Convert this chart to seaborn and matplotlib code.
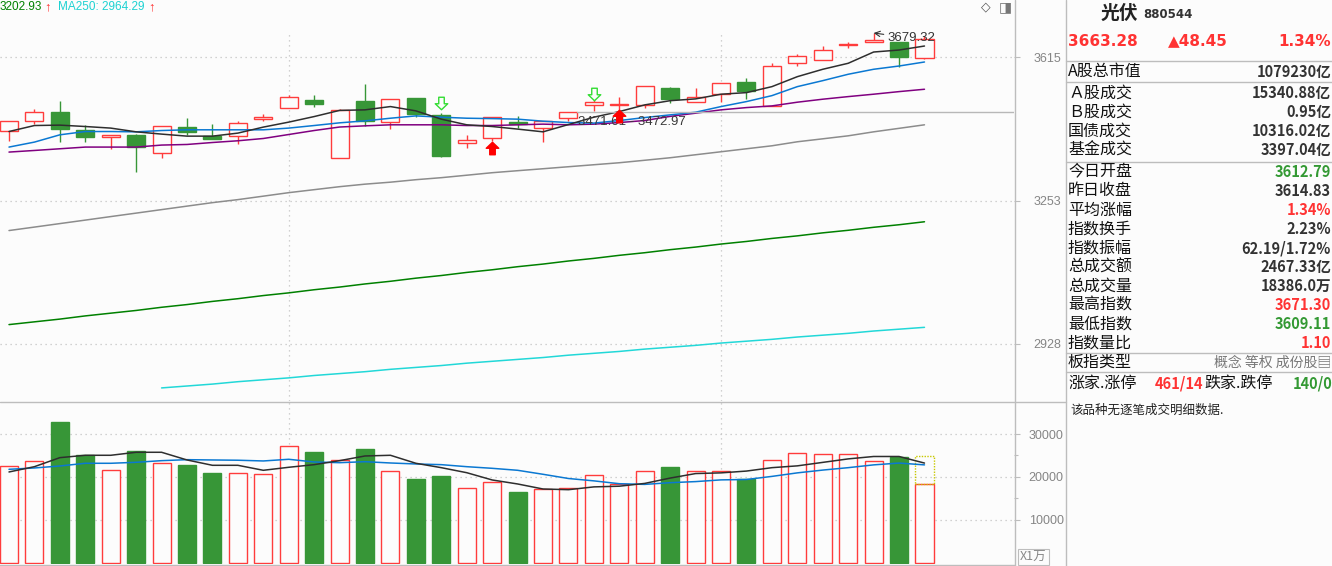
import numpy as np
import matplotlib
matplotlib.use('Agg')
import matplotlib.pyplot as plt
import seaborn as sns
from matplotlib import font_manager
from matplotlib.path import Path
from matplotlib.lines import Line2D
from matplotlib.ticker import FixedLocator, NullLocator

# ---- data ----
opens = [3423.5, 3448.6, 3472.2, 3426.8, 3409.9, 3413.4, 3368.9, 3434.3, 3411.7, 3410.9,
         3453.7, 3481.6, 3502.9, 3356.5, 3500.4, 3447.6, 3507.3, 3465.3, 3393.5, 3406.1,
         3446.2, 3431.1, 3455.6, 3488.6, 3489.4, 3489.4, 3533.0, 3497.0, 3517.6, 3549.4,
         3486.8, 3598.4, 3606.3, 3647.7, 3654.1, 3655.7, 3612.79]
highs = [3449.4, 3480.1, 3500.4, 3439.4, 3414.2, 3416.0, 3436.1, 3456.9, 3441.9, 3449.4,
         3467.1, 3515.0, 3515.8, 3480.1, 3544.2, 3504.7, 3508.5, 3468.9, 3414.2, 3458.7,
         3462.0, 3448.6, 3471.4, 3509.8, 3509.8, 3538.2, 3537.2, 3533.8, 3546.0, 3559.8,
         3599.1, 3623.7, 3644.3, 3655.7, 3679.32, 3655.7, 3671.30]
lows = [3397.6, 3441.9, 3395.0, 3395.0, 3378.7, 3321.2, 3355.5, 3415.0, 3402.6, 3390.1,
        3450.2, 3481.6, 3485.8, 3356.5, 3437.6, 3428.6, 3458.7, 3359.1, 3380.2, 3398.6,
        3431.1, 3395.0, 3450.2, 3475.7, 3473.0, 3481.6, 3494.4, 3497.0, 3498.6, 3506.3,
        3486.8, 3592.0, 3606.3, 3638.1, 3654.1, 3589.4, 3609.11]
closes = [3449.4, 3471.4, 3427.6, 3409.9, 3414.2, 3383.6, 3436.1, 3422.5, 3402.6, 3443.7,
          3458.7, 3509.8, 3493.4, 3476.6, 3450.2, 3504.7, 3467.1, 3360.6, 3401.1, 3458.7,
          3441.9, 3448.6, 3471.4, 3497.8, 3492.0, 3538.2, 3504.0, 3509.8, 3546.0, 3526.8,
          3590.5, 3616.9, 3632.8, 3649.6, 3661.1, 3614.83, 3663.28]

ma5 = [3422.5, 3437.6, 3438.6, 3435.1, 3431.1, 3421.7, 3416.0, 3410.9, 3410.9, 3418.5,
       3433.6, 3446.2, 3460.3, 3476.0, 3477.4, 3485.8, 3474.8, 3453.7, 3439.4, 3435.1,
       3428.6, 3421.7, 3440.1, 3458.7, 3473.0, 3490.1, 3500.9, 3505.5, 3517.6, 3521.7,
       3537.2, 3563.2, 3582.6, 3598.4, 3628.3, 3633.6, 3644.3]
ma10 = [3383.6, 3396.0, 3414.2, 3422.5, 3422.5, 3421.7, 3425.0, 3426.8, 3426.8, 3426.8,
        3426.8, 3431.1, 3437.6, 3444.4, 3449.4, 3456.1, 3462.0, 3458.7, 3456.1, 3455.1,
        3453.7, 3448.6, 3445.1, 3443.7, 3450.2, 3457.8, 3464.6, 3471.4, 3485.8, 3498.6,
        3513.9, 3537.2, 3552.8, 3569.5, 3582.6, 3591.2, 3601.8]
ma20 = [3371.2, 3375.2, 3379.4, 3383.6, 3383.6, 3383.6, 3388.6, 3390.1, 3395.0, 3399.3,
        3405.0, 3415.0, 3425.0, 3433.8, 3436.8, 3439.4, 3439.4, 3439.4, 3437.6, 3437.6,
        3439.4, 3441.1, 3439.4, 3441.1, 3445.1, 3450.2, 3460.8, 3468.9, 3477.4, 3483.2,
        3487.5, 3497.0, 3504.7, 3511.4, 3517.6, 3524.3, 3530.4]
ma60 = [3182.4, 3190.5, 3198.7, 3206.9, 3215.2, 3223.4, 3231.7, 3240.0, 3248.3, 3255.5,
        3263.8, 3272.2, 3279.4, 3286.6, 3292.7, 3297.5, 3303.5, 3308.4, 3314.4, 3320.5,
        3325.4, 3330.2, 3335.1, 3340.0, 3344.9, 3351.0, 3357.2, 3364.6, 3372.0, 3379.4,
        3386.8, 3396.8, 3404.2, 3411.7, 3421.7, 3430.5, 3439.4]
ma120 = [2970, 2976, 2982, 2989, 2995, 3001, 3008, 3014, 3021, 3027,
         3034, 3040, 3047, 3053, 3060, 3066, 3073, 3079, 3086, 3092,
         3099, 3105, 3112, 3118, 3125, 3131, 3138, 3144, 3151, 3157,
         3164, 3170, 3177, 3183, 3190, 3196, 3203]
ma250_start = 6
ma250 = [2835, 2839, 2843, 2848, 2852, 2856, 2861, 2865, 2869, 2874,
         2878, 2882, 2887, 2891, 2895, 2899, 2904, 2908, 2912, 2917,
         2921, 2925, 2930, 2934, 2938, 2943, 2947, 2951, 2956, 2960, 2964]

volumes = [22490, 23650, 32800, 25050, 21560, 26050, 23190, 22800, 20930, 20860,
           20630, 27140, 25820, 23880, 26520, 21330, 19540, 20240, 17370, 18770,
           16510, 17140, 17470, 20400, 18440, 21380, 22420, 21380, 21380, 19650,
           24050, 25520, 25260, 25260, 23800, 24700, 18386]
vol_ma5 = [21170, 22400, 24500, 25050, 25050, 25750, 25750, 23960, 22720, 22720,
           21560, 22260, 22870, 23800, 24890, 25050, 23190, 22170, 21000, 19310,
           18380, 17210, 17050, 17700, 17860, 18510, 19750, 20800, 20960, 21380,
           22170, 22590, 23400, 24210, 24770, 24770, 23240]
vol_ma10 = [21790, 22100, 22560, 23190, 23190, 23420, 23800, 24030, 23960, 23900,
            23730, 24120, 23490, 23330, 23560, 23260, 23030, 22870, 22400, 22020,
            21560, 20630, 19650, 19100, 18440, 18280, 18680, 18930, 19330, 19420,
            20140, 20960, 21610, 22170, 22820, 23240, 22820]
vol_forecast = 24890

price_ticks = [2928, 3253, 3615]
vol_ticks = [10000, 20000, 30000]
hline_price = 3472.3
hline_label = '3471.61 - 3472.97'
max_label = '3679.32'
buy_marks = [19, 24]
sell_marks = [17, 23]

info_rows = [
    ('Ａ股成交', '15340.88亿', '#333333', 93),
    ('Ｂ股成交', '0.95亿', '#333333', 112),
    ('国债成交', '10316.02亿', '#333333', 131),
    ('基金成交', '3397.04亿', '#333333', 150),
    ('今日开盘', '3612.79', '#339933', 172),
    ('昨日收盘', '3614.83', '#333333', 191),
    ('平均涨幅', '1.34%', '#FF3333', 210),
    ('指数换手', '2.23%', '#333333', 229),
    ('指数振幅', '62.19/1.72%', '#333333', 248),
    ('总成交额', '2467.33亿', '#333333', 267),
    ('总成交量', '18386.0万', '#333333', 286),
    ('最高指数', '3671.30', '#FF3333', 305),
    ('最低指数', '3609.11', '#339933', 324),
    ('指数量比', '1.10', '#FF3333', 343),
]

# ---- style ----
sns.set_theme(style='white')
BG = '#FCFCFC'
RED = '#FF3C3C'
GREEN = '#379637'
GRID = '#C4C4C4'
AXC = '#BDBDBD'
CJK = ['Noto Sans CJK SC', 'DejaVu Sans']
plt.rcParams['font.family'] = ['Liberation Sans', 'DejaVu Sans']
names = {f.name for f in font_manager.fontManager.ttflist}
NUM = 'Liberation Sans Narrow' if 'Liberation Sans Narrow' in names else 'Noto Sans CJK SC'
NUMF = [NUM, 'Noto Sans CJK SC', 'DejaVu Sans']
VSIZE = 10.5

W, H = 1332, 566
fig = plt.figure(figsize=(W / 100, H / 100), dpi=100, facecolor=BG)


def fx(x):
    return x / W


def fy(y):
    return 1 - y / H


ax = fig.add_axes([0, fy(401), fx(1014), 401 / H], facecolor=BG)
axv = fig.add_axes([0, fy(564), fx(1014), (564 - 402) / H], facecolor=BG)

idx = np.arange(len(closes))
o = np.array(opens)
c = np.array(closes)
up = c >= o
step = 25.43
xl = (-9 / step, (1014 - 9) / step)
bw = 0.71

# ---- candles ----
for i in idx:
    col = RED if up[i] else GREEN
    ax.vlines(i, lows[i], highs[i], color=col, lw=1.0, zorder=2)
ax.bar(idx, np.abs(c - o), bottom=np.minimum(o, c), width=bw,
       color=[BG if u else GREEN for u in up],
       edgecolor=[RED if u else GREEN for u in up], linewidth=1.0, zorder=3)

ma_lines = [(ma120, '#008000'), (ma60, '#8C8C8C'), (ma20, '#800080'),
            (ma10, '#0A78D2'), (ma5, '#2E2E2E')]
for vals, col in ma_lines:
    sns.lineplot(x=idx, y=vals, ax=ax, color=col, lw=1.1, zorder=4)
sns.lineplot(x=idx[ma250_start:], y=ma250, ax=ax, color='#22D8D8', lw=1.1, zorder=4)

ax.set_yscale('log')
ax.set_ylim(2807.9, 3769.6)
ax.set_xlim(*xl)
ax.yaxis.tick_right()
ax.yaxis.set_major_locator(FixedLocator(price_ticks))
ax.yaxis.set_minor_locator(NullLocator())
ax.set_yticklabels([str(t) for t in price_ticks])
ax.tick_params(axis='y', length=4.5, width=0.8, color=AXC, labelcolor='#858585',
               labelsize=9, pad=9.5, direction='out')
ax.set_xticks([])
ax.set_xlabel('')
ax.set_ylabel('')
for t in price_ticks:
    ax.axhline(t, color=GRID, lw=0.9, ls=(0, (1, 3)), zorder=0)
for s in ax.spines.values():
    s.set_visible(False)
for g in [11, 28]:
    ax.axvline(g, ymin=0, ymax=1 - 33 / 401, color=GRID, lw=0.9, ls=(0, (1, 3)), zorder=0)

# drawn line and markers
ax.plot([(577 - 9) / step, xl[1]], [hline_price, hline_price], color='#B8B8B8', lw=1.0, zorder=5)
ax.text((578 - 9) / step, 3447.2, hline_label, color='#3A3A3A', fontsize=9.5,
        ha='left', va='center', zorder=6)
ax.annotate(max_label, xy=(34, 3679.32), xytext=(887, H - 38), textcoords='figure pixels',
            color='#333333', fontsize=9.5, ha='left', va='center',
            arrowprops=dict(arrowstyle='->', color='#333333', lw=0.8, shrinkA=0, shrinkB=0))

arrow = Path([(-0.22, -0.5), (0.22, -0.5), (0.22, 0.02), (0.5, 0.02), (0, 0.5),
              (-0.5, 0.02), (-0.22, 0.02), (-0.22, -0.5)],
             [Path.MOVETO] + [Path.LINETO] * 6 + [Path.CLOSEPOLY])
arrow_dn = Path(arrow.vertices * np.array([1, -1]), arrow.codes)
ax.plot(buy_marks, [3380.6, 3461.7], ls='none', marker=arrow, ms=9, mfc='#FF0000',
        mec='#FF0000', zorder=7)
ax.plot(sell_marks, [3494.9, 3519.4], ls='none', marker=arrow_dn, ms=9, mfc=BG,
        mec='#33DD33', mew=1.0, zorder=7)

# ---- volume ----
axv.bar(idx, volumes, width=bw, color=[BG if u else GREEN for u in up],
        edgecolor=[RED if u else GREEN for u in up], linewidth=1.0, zorder=3)
axv.bar(idx[-1], vol_forecast - volumes[-1], bottom=volumes[-1], width=bw, fill=False,
        edgecolor='#C8C800', linestyle=(0, (1, 1)), linewidth=1.0, zorder=3)
sns.lineplot(x=idx, y=vol_ma10, ax=axv, color='#0A78D2', lw=1.1, zorder=4)
sns.lineplot(x=idx, y=vol_ma5, ax=axv, color='#2E2E2E', lw=1.1, zorder=4)
axv.set_ylim(-233, 37442)
axv.set_xlim(*xl)
axv.yaxis.tick_right()
axv.set_yticks(vol_ticks)
axv.set_yticklabels([str(t) for t in vol_ticks])
axv.set_yticks([15000, 25000], minor=True)
axv.tick_params(axis='y', which='major', length=4.5, width=0.8, color=AXC,
                labelcolor='#858585', labelsize=9, pad=6, direction='out')
axv.tick_params(axis='y', which='minor', length=3, width=0.8, color=AXC, direction='out')
axv.set_xticks([])
axv.set_xlabel('')
axv.set_ylabel('')
for t in vol_ticks:
    axv.axhline(t, color=GRID, lw=0.9, ls=(0, (1, 3)), zorder=0)
for g in [11, 28]:
    axv.axvline(g, color=GRID, lw=0.9, ls=(0, (1, 3)), zorder=0)
for s in axv.spines.values():
    s.set_visible(False)

# ---- frame lines ----
def fline(x0, y0, x1, y1, col=AXC, lw=1.0):
    fig.add_artist(Line2D([fx(x0), fx(x1)], [fy(y0), fy(y1)], color=col, lw=lw))


fline(1014.5, 0, 1014.5, 566)
fline(1065.5, 0, 1065.5, 566)
fline(0, 401.5, 1066, 401.5)
fline(0, 564.5, 1014.5, 564.5)
for yy in [60.7, 82, 161.7, 353.3, 372.3]:
    fline(1065.5, yy, 1332, yy)

# ---- legend row ----
fig.text(fx(0), fy(7), '3202.93', color='#008000', fontsize=8.5, va='center')
fig.text(fx(44), fy(7), '↑', color='#FF3030', fontsize=9.5, va='center')
fig.text(fx(58), fy(7), 'MA250: 2964.29', color='#1ED2D2', fontsize=8.5, va='center')
fig.text(fx(148), fy(7), '↑', color='#FF3030', fontsize=9.5, va='center')
fig.text(fx(986), fy(7), '◇', color='#555555', fontsize=9, va='center', ha='center',
         family=['DejaVu Sans'])
fig.text(fx(1005.5), fy(7), '◨', color='#777777', fontsize=10, va='center', ha='center',
         family=['DejaVu Sans'])
fig.text(fx(1020), fy(557), 'X1万', color='#888888', fontsize=9, va='center', family=CJK,
         bbox=dict(boxstyle='square,pad=0.15', fc=BG, ec=AXC, lw=0.8))

# ---- info panel ----
fig.text(fx(1101), fy(13), '光伏', color='#222222', fontsize=13.5, fontweight='bold',
         va='center', family=CJK)
fig.text(fx(1143), fy(14), '880544', color='#333333', fontsize=8.5, fontweight='bold',
         va='center', family=['DejaVu Sans'])
fig.text(fx(1068), fy(41), '3663.28', color='#FF3333', fontsize=11, fontweight='bold',
         va='center', family=['DejaVu Sans'])
fig.text(fx(1168), fy(41), '▲48.45', color='#FF3333', fontsize=11, fontweight='bold',
         va='center', family=['DejaVu Sans'])
fig.text(fx(1331), fy(41), '1.34%', color='#FF3333', fontsize=11, fontweight='bold',
         va='center', ha='right', family=['DejaVu Sans'])

fig.text(fx(1068), fy(71.5), 'A股总市值', color='#111111', fontsize=11.5, va='center', family=CJK)
fig.text(fx(1331), fy(71.5), '1079230亿', color='#333333', fontsize=VSIZE, fontweight='bold',
         va='center', ha='right', family=NUMF)
for label, value, col, yy in info_rows:
    fig.text(fx(1068), fy(yy), label, color='#111111', fontsize=11.5, va='center', family=CJK)
    fig.text(fx(1331), fy(yy), value, color=col, fontsize=VSIZE, fontweight='bold',
             va='center', ha='right', family=NUMF)

fig.text(fx(1068), fy(362.5), '板指类型', color='#111111', fontsize=11.5, va='center', family=CJK)
fig.text(fx(1331), fy(362.5), '概念 等权 成份股▤', color='#777777', fontsize=10,
         va='center', ha='right', family=CJK)
fig.text(fx(1068), fy(383.5), '涨家.涨停', color='#111111', fontsize=11.5, va='center', family=CJK)
fig.text(fx(1155), fy(383.5), '461/14', color='#FF3333', fontsize=VSIZE, fontweight='bold',
         va='center', family=NUMF)
fig.text(fx(1204), fy(383.5), '跌家.跌停', color='#111111', fontsize=11.5, va='center', family=CJK)
fig.text(fx(1332), fy(383.5), '140/0', color='#339933', fontsize=VSIZE, fontweight='bold',
         va='center', ha='right', family=NUMF)
fig.text(fx(1070), fy(410.5), '该品种无逐笔成交明细数据.', color='#222222', fontsize=9,
         va='center', family=CJK)

fig.savefig('out.png', dpi=100, facecolor=BG)
